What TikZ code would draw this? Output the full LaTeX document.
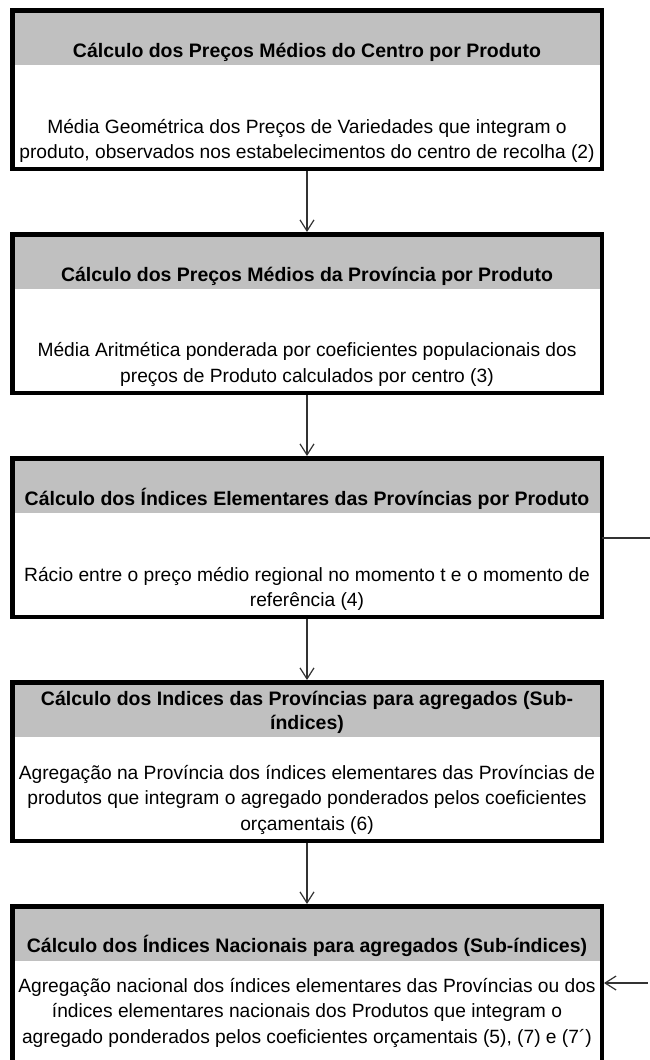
\documentclass[tikz,border=0pt]{standalone}
\usepackage{fontspec}
\setmainfont{Liberation Sans}
\usetikzlibrary{positioning,arrows.meta}

\definecolor{silver}{HTML}{C0C0C0}

\tikzset{
  stage/.style={draw, line width=4.5pt, minimum width=589.5pt, minimum height=158.5pt,
    inner sep=0pt, outer sep=0pt},
  hdr/.style={font=\fontsize{19.5}{24}\selectfont\bfseries, align=center, inner sep=0pt, anchor=south},
  txt/.style={font=\fontsize{19.2}{25.5}\selectfont, align=center, inner sep=0pt, anchor=south},
  band/.style={fill=silver},
  wire/.style={draw=black!80, line width=1.2pt},
  link/.style={wire, -{Straight Barb[length=11pt,width=14pt]}, shorten <=2.25pt, shorten >=2.25pt},
}

\begin{document}
\begin{tikzpicture}[x=1pt, y=1pt]
  \useasboundingbox (0,0) rectangle (650,-1060);

  \node[stage] (b1) at (307,-89.5) {};
  \node[stage, below=65.5pt of b1] (b2) {};
  \node[stage, below=65.5pt of b2] (b3) {};
  \node[stage, below=65.5pt of b3] (b4) {};
  \node[stage, below=65.5pt of b4] (b5) {};

  % grey title bands
  \foreach \b in {b1,b2,b3,b4,b5}
    \path[band] ([shift={(2.25,-2.25)}]\b.north west) rectangle ([shift={(-2.25,-54.75)}]\b.north east);

  \node[hdr] (h1) at ([yshift=-51]b1.north) {Cálculo dos Preços Médios do Centro por Produto};
  \node[txt] (t1) at ([yshift=6]b1.south) {Média Geométrica dos Preços de Variedades que integram o\\
    produto, observados nos estabelecimentos do centro de recolha (2)};

  \node[hdr] (h2) at ([yshift=-51]b2.north) {Cálculo dos Preços Médios da Província por Produto};
  \node[txt] (t2) at ([yshift=6]b2.south) {Média Aritmética ponderada por coeficientes populacionais dos\\
    preços de Produto calculados por centro (3)};

  \node[hdr] (h3) at ([yshift=-51]b3.north) {Cálculo dos Índices Elementares das Províncias por Produto};
  \node[txt] (t3) at ([yshift=6]b3.south) {Rácio entre o preço médio regional no momento t e o momento de\\
    referência (4)};

  \node[hdr] (h4) at ([yshift=-51]b4.north) {Cálculo dos Indices das Províncias para agregados (Sub-\\índices)};
  \node[txt] (t4) at ([yshift=6]b4.south) {Agregação na Província dos índices elementares das Províncias de\\
    produtos que integram o agregado ponderados pelos coeficientes\\orçamentais (6)};

  \node[hdr] (h5) at ([yshift=-51]b5.north) {Cálculo dos Índices Nacionais para agregados (Sub-índices)};
  \node[txt] (t5) at ([yshift=17]b5.south) {Agregação nacional dos índices elementares das Províncias ou dos\\
    índices elementares nacionais dos Produtos que integram o\\
    agregado ponderados pelos coeficientes orçamentais (5), (7) e (7´)};

  \draw[link] (b1) -- (b2);
  \draw[link] (b2) -- (b3);
  \draw[link] (b3) -- (b4);
  \draw[link] (b4) -- (b5);

  % lines off the right edge
  \coordinate (r3) at (650,-538);
  \coordinate (r5) at (650,-983);
  \draw[wire] (b3.east |- r3) -- (r3);
  \draw[link] (r5) -- (b5.east |- r5);
\end{tikzpicture}
\end{document}
